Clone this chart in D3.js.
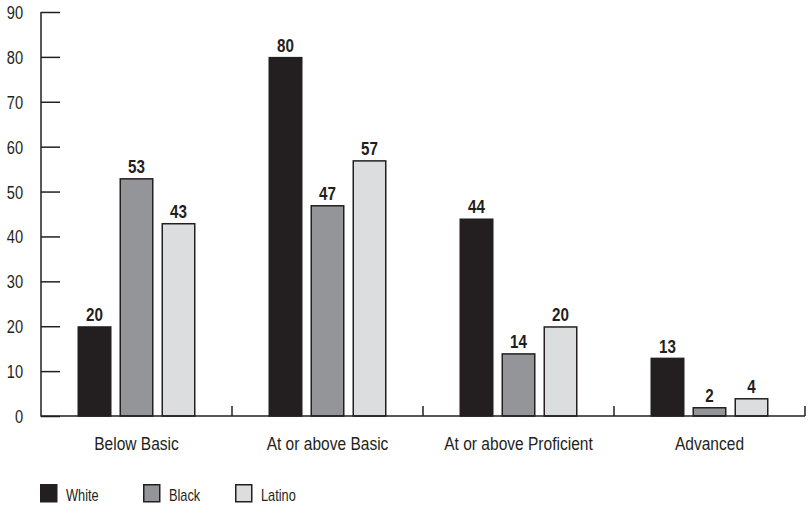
<!DOCTYPE html>
<html><head><meta charset="utf-8">
<script src="https://cdn.jsdelivr.net/npm/d3@7"></script>
<style>
body{margin:0;background:#fff;}
text{font-family:"Liberation Sans",Arial,sans-serif;fill:#231f20;}
</style></head>
<body><svg id="c" width="809" height="508"></svg>
<script>
const categories = ["Below Basic","At or above Basic","At or above Proficient","Advanced"];
const seriesNames = ["White","Black","Latino"];
const whiteValues = [20,80,44,13];
const blackValues = [53,47,14,2];
const latinoValues = [43,57,20,4];
const yTicks = [0,10,20,30,40,50,60,70,80,90];
const colors = ["#231f20","#939598","#dcddde"];

const seriesValues = [whiteValues, blackValues, latinoValues];
const svg = d3.select("#c");
const ink = "#231f20";

// helper for condensed text: group translated to the anchor, text scaled horizontally
function narrowText(sel, xf, yf, size, anchor, weight, txt, sx){
  const gg = sel.append("g").attr("transform",(d,i)=>`translate(${xf(d,i)},${yf(d,i)}) scale(${sx},1)`);
  gg.append("text").attr("text-anchor",anchor).attr("font-size",size)
    .attr("font-weight",weight).text(txt);
  return gg;
}

const x0 = d3.scaleBand().domain(categories).range([41,805]).padding(0);
const x1 = d3.scaleBand().domain(seriesNames).range([0,118]).paddingInner(8/42).paddingOuter(0);
const y = d3.scaleLinear().domain([0,90]).range([416,12]);
const groupOffset = (x0.bandwidth()-118)/2;

// y axis
const yAxis = d3.axisRight(y).tickValues(yTicks).tickSize(19).tickFormat("");
const gy = svg.append("g").attr("transform","translate(41,0)").call(yAxis);
gy.select(".domain").remove();
gy.selectAll(".tick line").attr("stroke",ink).attr("stroke-width",1.5);
svg.append("line").attr("x1",41).attr("x2",41).attr("y1",y(90)).attr("y2",y(0)+0.75).attr("stroke",ink).attr("stroke-width",1.5);
narrowText(svg.append("g").selectAll("g").data(yTicks).join("g"),
  ()=>23, d=>y(d)+7, 18.5, "end", "normal", d=>d, 0.79);

// bars
const rows = [];
categories.forEach((c,i)=>seriesNames.forEach((s,j)=>rows.push({c,s,j,v:seriesValues[j][i]})));
const g = svg.append("g");
g.selectAll("rect").data(rows).join("rect")
  .attr("x",d=>x0(d.c)+groupOffset+x1(d.s)+0.75)
  .attr("width",x1.bandwidth()-1.5)
  .attr("y",d=>y(d.v)+0.75)
  .attr("height",d=>y(0)-y(d.v)-0.75)
  .attr("fill",d=>colors[d.j]).attr("stroke",ink).attr("stroke-width",1.5);
narrowText(svg.append("g").selectAll("g").data(rows).join("g"),
  d=>x0(d.c)+groupOffset+x1(d.s)+x1.bandwidth()/2, d=>y(d.v)-5, 19, "middle", "bold", d=>d.v, 0.8);

// x axis
svg.append("line").attr("x1",41).attr("x2",805).attr("y1",y(0)).attr("y2",y(0)).attr("stroke",ink).attr("stroke-width",1.5);
svg.append("g").selectAll("line").data(categories).join("line")
  .attr("x1",d=>x0(d)+x0.bandwidth()).attr("x2",d=>x0(d)+x0.bandwidth())
  .attr("y1",y(0)).attr("y2",y(0)-10).attr("stroke",ink).attr("stroke-width",1.5);
narrowText(svg.append("g").selectAll("g").data(categories).join("g"),
  d=>x0(d)+x0.bandwidth()/2, ()=>450, 18.5, "middle", "normal", d=>d, 0.84);

// legend
const legendX = [40,143,235];
const lg = svg.append("g").selectAll("g").data(seriesNames).join("g")
  .attr("transform",(d,i)=>`translate(${legendX[i]},484)`);
lg.append("rect").attr("x",0.75).attr("y",0.75).attr("width",16).attr("height",17)
  .attr("fill",(d,i)=>colors[i]).attr("stroke",ink).attr("stroke-width",1.5);
narrowText(lg, ()=>26, ()=>17, 16, "start", "normal", d=>d, 0.8);
</script></body></html>
